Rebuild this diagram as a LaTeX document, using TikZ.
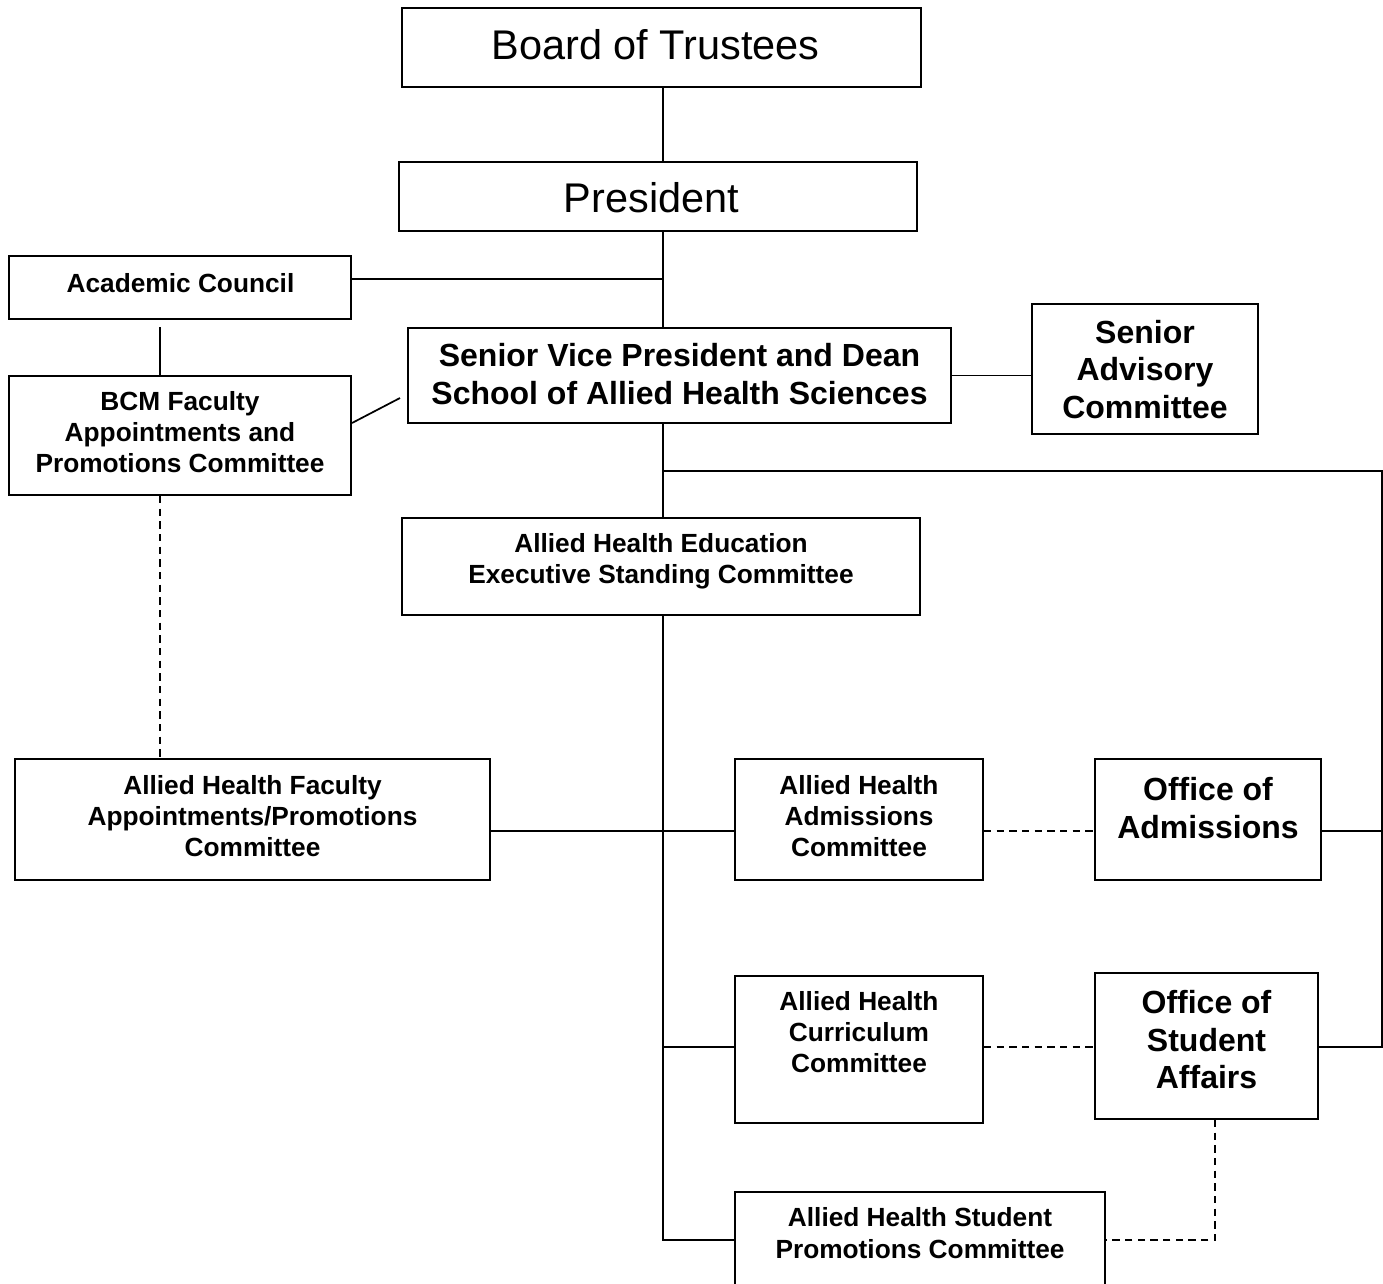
\documentclass[tikz,border=0pt]{standalone}
\usepackage{fontspec}
\setmainfont{Liberation Sans}
\begin{document}
\begin{tikzpicture}[x=0.75pt,y=-0.75pt,
  box/.style={draw, line width=1.5pt, inner sep=0pt},
  bw/.style 2 args={minimum width=#1*0.75pt, minimum height=#2*0.75pt},
  tbig/.style={font=\fontsize{31.1pt}{36pt}\selectfont, align=center, inner sep=0pt},
  tmid/.style={font=\bfseries\fontsize{24pt}{28.1pt}\selectfont, align=center, inner sep=0pt},
  tsml/.style={font=\bfseries\fontsize{19.7pt}{23.5pt}\selectfont, align=center, inner sep=0pt},
  conn/.style={line width=1.3pt},
  dconn/.style={line width=1.3pt, dash pattern=on 5.5pt off 4pt},
]
\useasboundingbox (0,0) rectangle (1383,1283);
\clip (0,0) rectangle (1383,1283);

% boxes
\node[box,bw={519}{79}]  (bot)  at (661.5,47.5) {};
\node[box,bw={518}{69}]  (pres) at (658,196.5) {};
\node[box,bw={342}{63}]  (ac)   at (180,287.5) {};
\node[box,bw={543}{95}]  (svp)  at (679.5,375.5) {};
\node[box,bw={226}{130}] (sac)  at (1145,369) {};
\node[box,bw={342}{119}] (bcm)  at (180,435.5) {};
\node[box,bw={518}{97}]  (ahe)  at (661,566.5) {};
\node[box,bw={475}{121}] (ahf)  at (252.5,819.5) {};
\node[box,bw={248}{121}] (adm)  at (859,819.5) {};
\node[box,bw={226}{121}] (oa)   at (1208,819.5) {};
\node[box,bw={248}{147}] (cur)  at (859,1049.5) {};
\node[box,bw={223}{146}] (osa)  at (1206.5,1046) {};
\node[box,bw={370}{120},anchor=north] (sp) at (920,1191) {};

% texts
\node[tbig] (botT)  at (655.5,45) {Board of Trustees};
\node[tbig] (presT) at (651.5,197.5) {President};
\node[tsml] (acT)   at (180.5,283.5) {Academic Council};
\node[tsml] (bcmT)  at (180,432) {BCM Faculty\\Appointments and\\Promotions Committee};
\node[tmid] (svpT)  at (679.5,374) {Senior Vice President and Dean\\School of Allied Health Sciences};
\node[tmid] (sacT)  at (1145,369.5) {Senior\\Advisory\\Committee};
\node[tsml] (aheT)  at (661,561) {Allied Health Education\\Executive Standing Committee};
\node[tsml] (ahfT)  at (252.5,816) {Allied Health Faculty\\Appointments/Promotions\\Committee};
\node[tsml] (admT)  at (859,816) {Allied Health\\Admissions\\Committee};
\node[tmid] (oaT)   at (1208,808) {Office of\\Admissions};
\node[tsml] (curT)  at (859,1032) {Allied Health\\Curriculum\\Committee};
\node[tmid] (osaT)  at (1206.5,1040) {Office of\\Student\\Affairs};
\node[tsml] (spT)   at (920,1233) {Allied Health Student\\Promotions Committee};

% helper coordinates
\coordinate (tx) at (663,0);
\coordinate (bx) at (160,0);
\coordinate (rx) at (1382,0);
\coordinate (ox) at (1215,0);
\coordinate (acj) at (663,279);
\coordinate (acb) at (160,327);
\coordinate (dgy) at (0,423);
\coordinate (dg) at (400,398);
\coordinate (rj) at (663,471);
\coordinate (r1) at (0,831);
\coordinate (r2) at (0,1047);
\coordinate (r3) at (0,1240);

% connectors
\draw[conn] (bot.south -| tx) -- (pres.north -| tx);
\draw[conn] (pres.south -| tx) -- (svp.north -| tx);
\draw[conn] (acj -| ac.east) -- (acj);
\draw[conn] (acb) -- (bcm.north -| acb);
\draw[conn] (bcm.east |- dgy) -- (dg);
\draw[conn] (svp.east) -- (svp.east -| sac.west);
\draw[conn] (svp.south -| tx) -- (ahe.north -| tx);
\draw[conn] (rj) -- (rj -| rx) -- (rx |- r2) -- (osa.east |- r2);
\draw[conn] (oa.east |- r1) -- (rx |- r1);
\draw[conn] (ahe.south -| tx) -- (tx |- r3) -- (sp.west |- r3);
\draw[conn] (ahf.east |- r1) -- (adm.west |- r1);
\draw[conn] (tx |- r2) -- (cur.west |- r2);
\draw[dconn] (adm.east |- r1) -- (oa.west |- r1);
\draw[dconn] (cur.east |- r2) -- (osa.west |- r2);
\draw[dconn] (bcm.south -| bx) -- (ahf.north -| bx);
\draw[dconn] (osa.south -| ox) -- (ox |- r3) -- (sp.east |- r3);
\end{tikzpicture}
\end{document}
